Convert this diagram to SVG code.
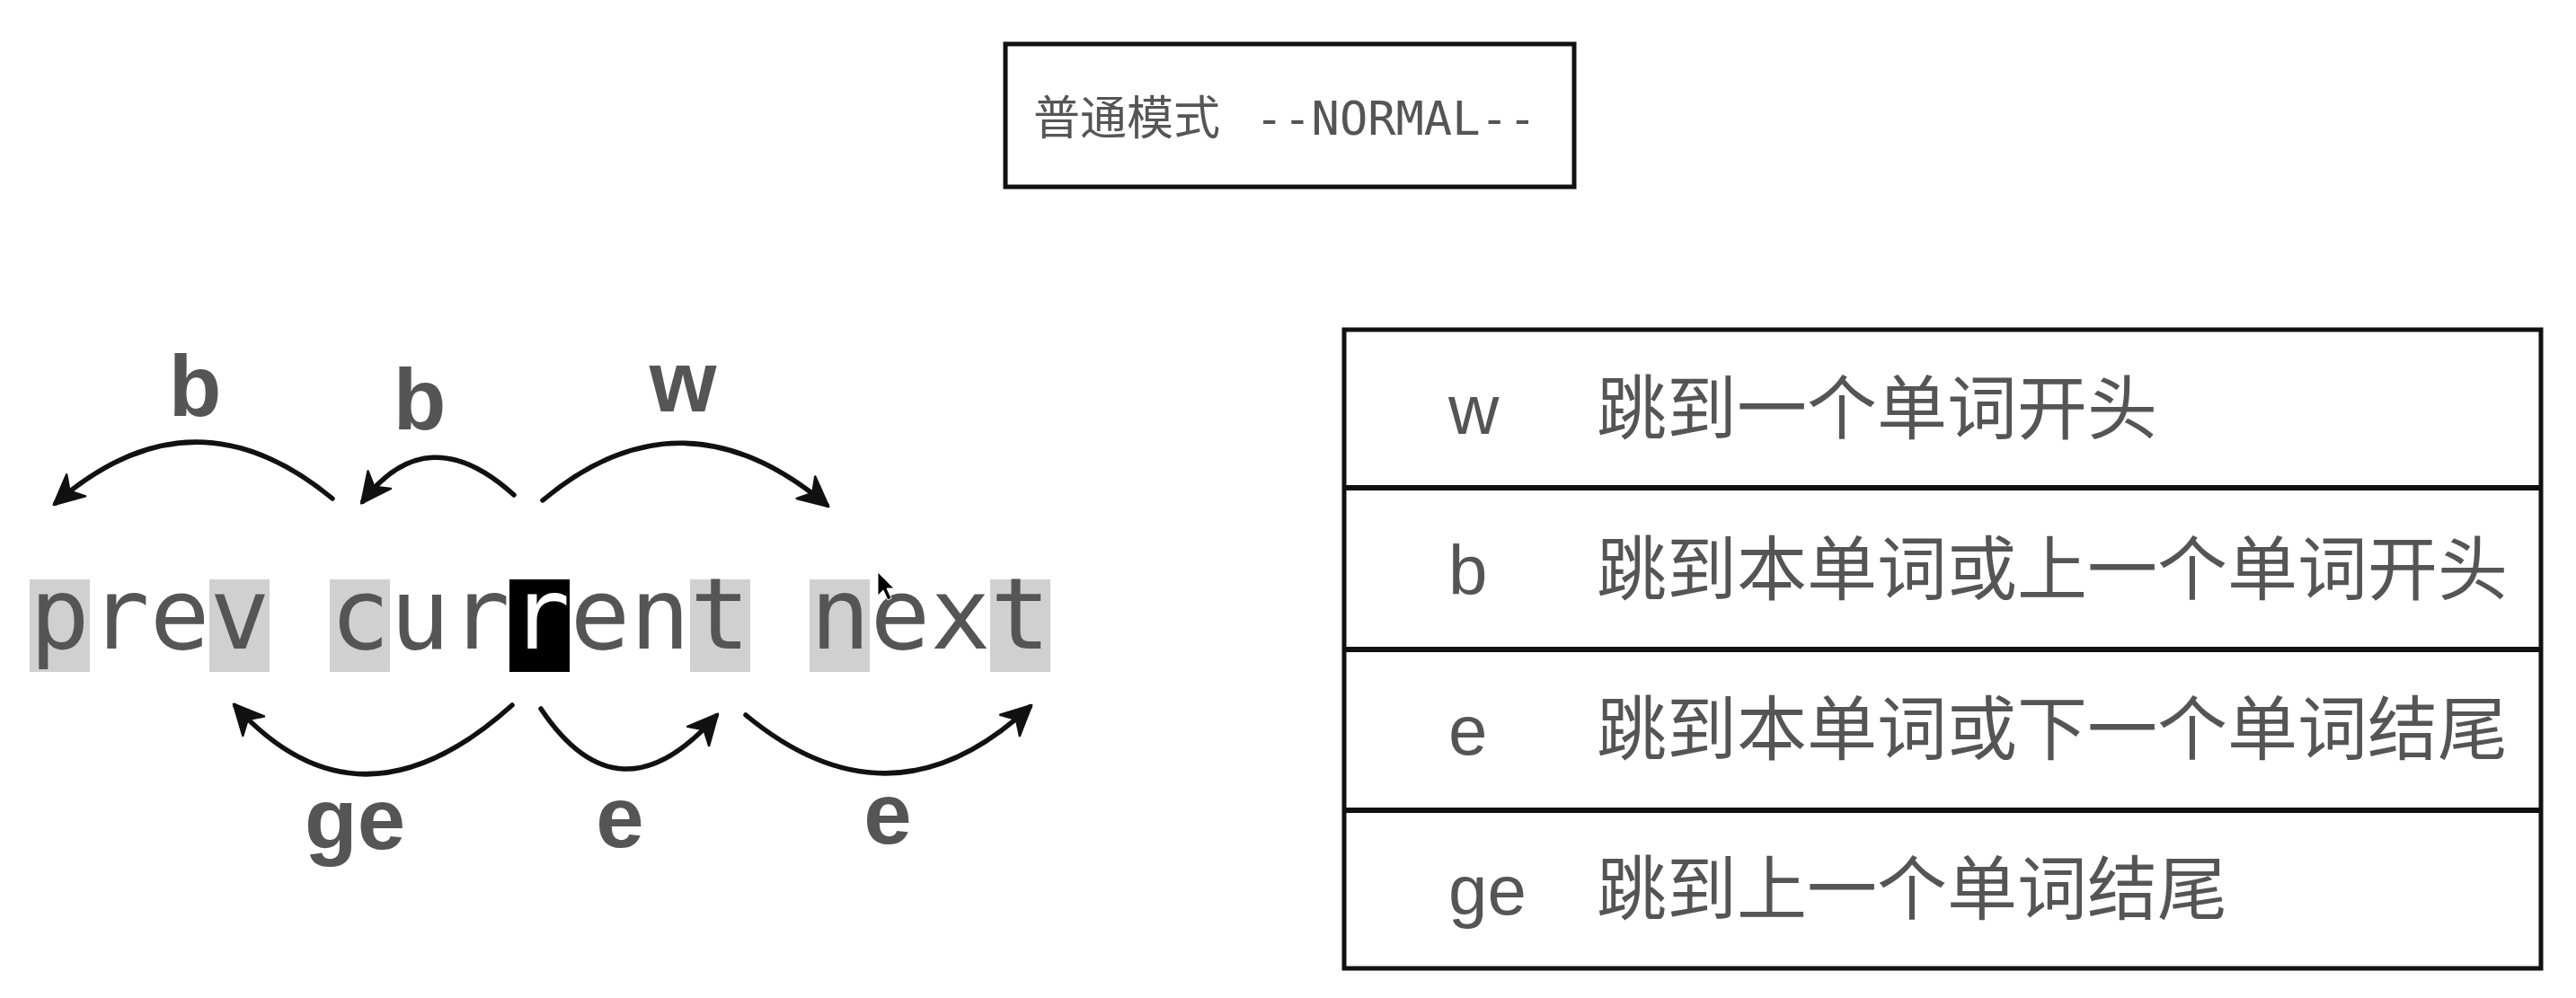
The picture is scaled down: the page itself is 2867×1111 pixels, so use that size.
<svg xmlns="http://www.w3.org/2000/svg" width="2867" height="1111" viewBox="0 0 2867 1111">
<defs>
<style>
.lbl{font-family:"Liberation Sans",Arial,sans-serif;font-weight:bold;font-size:96px;fill:#555;text-anchor:middle}
.mono{font-family:"DejaVu Sans Mono",monospace;font-size:111px;fill:#555}
.key{font-family:"Liberation Sans",Arial,sans-serif;font-size:78px;fill:#555}
.cjk{font-family:"Noto Sans CJK SC","Noto Sans",sans-serif;font-size:78px;fill:#555}
.title{font-family:"DejaVu Sans Mono","Noto Sans CJK SC",monospace;font-size:52px;fill:#555}
.titlecjk{font-family:"Noto Sans CJK SC",sans-serif;font-size:52px;fill:#555}
.hl{fill:#d0d0d0}
.border{fill:none;stroke:#111;stroke-width:5}
.div{stroke:#111;stroke-width:6;fill:none}
.arc{fill:none;stroke:#111;stroke-width:5.5;stroke-linecap:round;marker-end:url(#ah)}
</style>
<marker id="ah" markerUnits="userSpaceOnUse" markerWidth="60" markerHeight="60" viewBox="-40 -30 50 60" refX="0" refY="0" orient="auto">
<path d="M3,0 L-30,-16 L-21,-1 L-21,1 L-30,16 Z" fill="#111" stroke="#111" stroke-width="2.5" stroke-linejoin="round"/>
</marker>
</defs>
<rect width="2867" height="1111" fill="#fff"/>

<g id="mode-box">
<rect class="border" x="1119" y="49" width="633" height="159"/>
<text x="1150" y="150" class="titlecjk">普通模式</text>
<text x="1397" y="150" class="title">--NORMAL--</text>
</g>

<g id="text-line">
<rect class="hl" x="33" y="645" width="67" height="103"/>
<rect class="hl" x="233" y="645" width="67" height="103"/>
<rect class="hl" x="367" y="645" width="67" height="103"/>
<rect x="567" y="645" width="67" height="103" fill="#000"/>
<rect class="hl" x="768" y="645" width="67" height="103"/>
<rect class="hl" x="901" y="645" width="67" height="103"/>
<rect class="hl" x="1102" y="645" width="67" height="103"/>
<text x="33" y="722" class="mono" xml:space="preserve">prev cur<tspan fill="#fff">r</tspan>ent next</text>
</g>

<g id="cursor">
<path d="M977,637 L977,663 L983,657 L988,668 L992,666 L987,655 L995,655 Z" fill="#000" stroke="#fff" stroke-width="1"/>
</g>

<g id="connectors">
<path class="arc" d="M370,555 Q215,427 62,560"/>
<path class="arc" d="M572,551 Q476,464 404,558"/>
<path class="arc" d="M604,557 Q759,427 920,562"/>
<path class="arc" d="M570,785 Q400,938 262,786"/>
<path class="arc" d="M602,789 Q689,919 797,797"/>
<path class="arc" d="M830,796 Q992,930 1146,787"/>
</g>

<g id="labels">
<text class="lbl" x="217" y="463">b</text>
<text class="lbl" x="467" y="478">b</text>
<text class="lbl" x="760" y="458">w</text>
<text class="lbl" x="395" y="945">ge</text>
<text class="lbl" x="690" y="943">e</text>
<text class="lbl" x="988" y="939">e</text>
</g>

<g id="table">
<rect class="border" x="1496" y="367" width="1332" height="711"/>
<line class="div" x1="1496" y1="543" x2="2828" y2="543"/>
<line class="div" x1="1496" y1="723" x2="2828" y2="723"/>
<line class="div" x1="1496" y1="902" x2="2828" y2="902"/>
</g>
<g id="row-w">
<text class="key" x="1612" y="483">w</text>
<text class="cjk" x="1777" y="483">跳到一个单词开头</text>
</g>
<g id="row-b">
<text class="key" x="1612" y="662">b</text>
<text class="cjk" x="1777" y="662">跳到本单词或上一个单词开头</text>
</g>
<g id="row-e">
<text class="key" x="1612" y="840">e</text>
<text class="cjk" x="1777" y="840">跳到本单词或下一个单词结尾</text>
</g>
<g id="row-ge">
<text class="key" x="1612" y="1018">ge</text>
<text class="cjk" x="1777" y="1018">跳到上一个单词结尾</text>
</g>
</svg>
